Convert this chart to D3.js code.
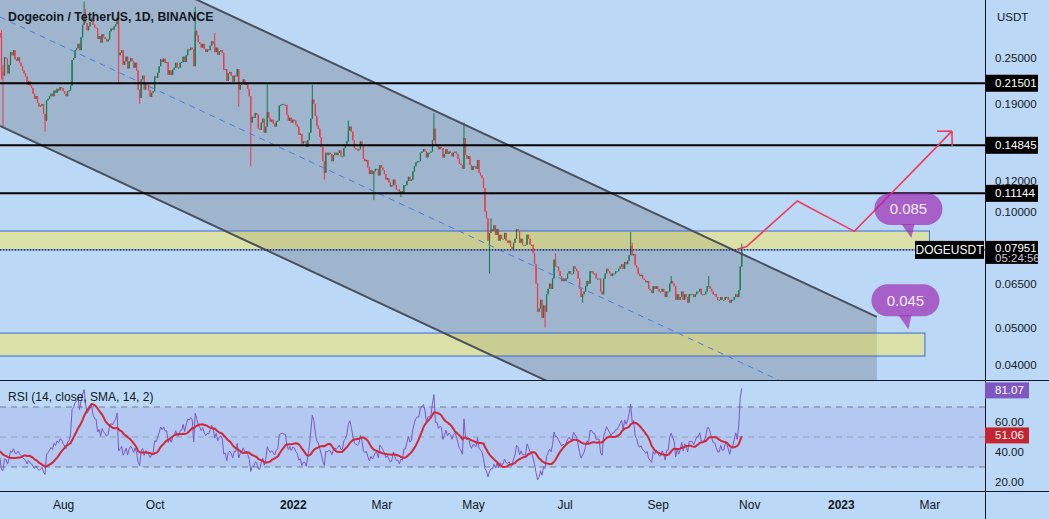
<!DOCTYPE html>
<html>
<head>
<meta charset="utf-8">
<script src="https://cdn.jsdelivr.net/npm/d3@7"></script>
<style>
  body { margin: 0; overflow: hidden; background: #bbd9f7; }
  svg { display: block; font-family: "Liberation Sans", Arial, sans-serif; }
</style>
</head>
<body>
<svg id="chart"></svg>
<script>
// ---- data (prices in units of 0.0001 USDT) ----
const unit = 1e-4;

// closes before the visible range, only used to warm up the RSI (2021-05-20 .. 2021-06-19)
const warmupCloses = [3950,3520,3380,3050,3700,3500,3530,3390,3060,2980,3180,3320,
  3740,4260,4080,3700,3500,3570,3380,3300,3420,3220,3150,3180,3280,3250,3190,3030,3060,2880,2900];

const closeMonths = ['2021-06-20','2021-07-01','2021-08-01','2021-09-01','2021-10-01','2021-11-01','2021-12-01',
  '2022-01-01','2022-02-01','2022-03-01','2022-04-01','2022-05-01','2022-06-01','2022-07-01','2022-08-01','2022-09-01','2022-10-01'];

const closeRows = [
  [2830,2290,2250,2510,2490,2280,2400,2590,2540,2620,2480],
  [2460,2510,2430,2380,2320,2280,2240,2130,2180,2120,2090,2020,1960,1990,1910,1870,1880,1900,1790,1720,1940,1960,1990,2020,1990,2060,2030,2080,2060,2100,2090],
  [2050,2020,1990,2050,2060,2120,2470,2500,2620,2650,2720,2620,2830,3050,3250,3080,2950,3020,3100,3180,3050,3000,2990,2800,2850,2740,2880,2830,2800,2760,2790],
  [2930,2980,2960,3020,3060,3180,2540,2580,2620,2400,2450,2520,2350,2450,2500,2450,2360,2430,2320,2070,1970,2200,2250,2070,2150,2130,2060,1980,2030,2050],
  [2240,2220,2290,2380,2480,2440,2490,2430,2440,2260,2320,2260,2330,2360,2430,2360,2360,2430,2440,2520,2440,2540,2630,2620,2660,2640,2380,2940,2860,2750,2720],
  [2660,2720,2640,2590,2630,2620,2690,2760,2720,2590,2660,2550,2600,2620,2580,2330,2340,2180,2280,2300,2250,2170,2250,2240,2340,2070,2130,2150,2200,2130],
  [2140,2080,1990,1700,1760,1750,1800,1780,1640,1630,1700,1740,1600,1660,1810,1750,1710,1730,1690,1660,1710,1720,1880,1890,1900,1890,1890,1780,1720,1750,1700],
  [1730,1720,1680,1660,1580,1590,1500,1520,1520,1470,1530,1600,1740,1950,1900,1770,1670,1640,1560,1470,1350,1260,1420,1400,1420,1410,1350,1400,1420,1400,1420],
  [1440,1390,1390,1460,1480,1520,1620,1660,1610,1530,1460,1450,1440,1450,1520,1480,1370,1350,1360,1300,1250,1280,1250,1270,1290,1290,1240,1320],
  [1300,1280,1250,1210,1220,1190,1160,1170,1210,1170,1140,1140,1110,1130,1120,1170,1170,1200,1230,1200,1210,1270,1310,1340,1350,1350,1420,1430,1450,1430,1380],
  [1420,1420,1430,1530,1640,1490,1490,1450,1470,1460,1380,1410,1450,1410,1430,1420,1390,1420,1430,1410,1370,1330,1320,1290,1550,1400,1370,1390,1320,1280],
  [1310,1310,1290,1360,1260,1240,1220,1150,1000,960,840,880,900,890,920,870,900,840,870,850,850,880,840,830,840,810,800,830,850,900,890],
  [830,850,820,820,820,870,850,820,820,780,730,650,550,560,590,530,570,550,610,630,650,630,670,750,720,720,700,680,660,670],
  [660,670,690,700,690,690,720,710,700,670,630,600,610,620,640,660,650,700,700,690,690,670,670,670,620,610,670,690,710,700,690],
  [680,690,690,700,700,710,720,730,710,740,730,745,770,815,770,775,725,715,690,680,685,670,665,655,660,630,625,615,640,630,640],
  [630,620,620,630,620,600,620,620,650,660,650,640,590,610,590,600,620,590,610,600,580,610,610,610,600,610,620,620,630,610],
  [610,610,620,640,640,630,620,610,610,600,590,590,600,590,590,600,600,590,580,590,590,600,610,600,625,720,795.1]
];

// notable wicks (0 = no wick on that side)
const wickDays = ['2021-06-21','2021-06-22','2021-07-20','2021-08-15','2021-08-16','2021-09-07','2021-09-21','2021-10-28',
  '2021-11-10','2021-11-26','2021-12-04','2021-12-15','2022-01-14','2022-01-22','2022-02-07','2022-02-24','2022-03-14',
  '2022-04-05','2022-04-25','2022-05-12','2022-05-13','2022-06-18','2022-06-25','2022-07-13','2022-08-14','2022-08-15',
  '2022-09-10','2022-10-05','2022-10-27'];
const wickHigh = [2950,2400,0,3500,3350,3320,0,3390,2900,0,0,2150,2130,0,1720,0,0,1800,1700,0,960,0,780,0,885,830,680,680,825];
const wickLow  = [2200,1660,1610,0,0,2160,1900,0,0,1870,1310,0,0,1210,0,1070,1090,0,0,690,0,500,0,580,0,0,0,0,0];

// drawings
const levels = [0.21501, 0.14845, 0.11144];
const lastPrice = 0.07951, lastPriceText = '0.07951', countdown = '05:24:56';
const zoneDays = [['2021-06-01','2023-03-01'], ['2021-06-01','2023-02-26']];
const zonePrices = [[0.0890, 0.07951], [0.0484, 0.0422]];
const channelDays = ['2021-06-20', '2023-01-25'];
const channelTop = [0.6122, 0.0533];
const channelWidth = 3.674;           // upper / lower price ratio
const arrowDays = ['2022-10-24','2022-10-30','2022-12-03','2023-01-10','2023-03-16'];
const arrowPrices = [0.0798, 0.0810, 0.1065, 0.0888, 0.1616];
const bubbleDays = ['2023-02-17', '2023-02-15'];
const bubblePrices = [0.0854, 0.0495];
const bubbleTexts = ['0.085', '0.045'];

// axes
const priceTicks = [0.25, 0.19, 0.12, 0.10, 0.065, 0.05, 0.04];
const rsiTicks = [60, 40, 20];
const rsiLevels = [70, 50, 30];
const rsiLast = 81.07, rsiMaLast = 51.06;
const timeTicks = ['2021-08-01','2021-10-01','2022-01-01','2022-03-01','2022-05-01','2022-07-01','2022-09-01','2022-11-01','2023-01-01','2023-03-01'];
const timeLabels = ['Aug','Oct','2022','Mar','May','Jul','Sep','Nov','2023','Mar'];

// ---- layout ----
const w = 1049, h = 519;
const plotW = 985, priceBottom = 380, rsiTop = 381, rsiBottom = 491;
const bg = '#bbd9f7', ink = '#131722';
const upCol = '#157a4c', downCol = '#f23645';

const parse = d3.utcParse('%Y-%m-%d');
const fmtDay = d3.utcFormat('%Y-%m-%d');

const x = d3.scaleUtc().domain([parse('2021-06-20'), parse('2023-04-07')]).range([0, plotW]);
const y = d3.scaleLog().domain([0.03657, 0.3534]).range([priceBottom, 0]);
const yR = d3.scaleLinear().domain([14, 87.33]).range([rsiBottom, rsiTop]);

// candles
const candles = [];
let prev = warmupCloses[warmupCloses.length - 1] * unit;
closeMonths.forEach((m, k) => {
  const start = parse(m);
  closeRows[k].forEach((c, i) => {
    const close = c * unit;
    candles.push({date: d3.utcDay.offset(start, i), open: prev, close: close});
    prev = close;
  });
});
const wickMap = new Map(wickDays.map((d, i) => [d, i]));
candles.forEach(c => {
  c.high = Math.max(c.open, c.close);
  c.low = Math.min(c.open, c.close);
  const j = wickMap.get(fmtDay(c.date));
  if (j !== undefined) {
    if (wickHigh[j]) c.high = Math.max(c.high, wickHigh[j] * unit);
    if (wickLow[j]) c.low = Math.min(c.low, wickLow[j] * unit);
  }
});

// RSI(14) with SMA(14)
const allCloses = warmupCloses.map(v => v * unit).concat(candles.map(c => c.close));
const rsiLen = 14;
const rsi = new Array(allCloses.length).fill(null);
let up = 0, dn = 0;
for (let i = 1; i < allCloses.length; i++) {
  const ch = allCloses[i] - allCloses[i - 1];
  const u = Math.max(ch, 0), d = Math.max(-ch, 0);
  if (i <= rsiLen) {
    up += u / rsiLen; dn += d / rsiLen;
    if (i < rsiLen) continue;
  } else {
    up = (up * (rsiLen - 1) + u) / rsiLen;
    dn = (dn * (rsiLen - 1) + d) / rsiLen;
  }
  rsi[i] = dn === 0 ? 100 : 100 - 100 / (1 + up / dn);
}
const rsiMa = rsi.map((v, i) => {
  if (i < rsiLen - 1) return null;
  const win = rsi.slice(i - rsiLen + 1, i + 1);
  return win.some(q => q === null) ? null : d3.mean(win);
});
const off = warmupCloses.length;
candles.forEach((c, i) => { c.rsi = rsi[i + off]; c.rsiMa = rsiMa[i + off]; });

// ---- drawing ----
const svg = d3.select('#chart').attr('width', w).attr('height', h);
svg.append('rect').attr('width', w).attr('height', h).attr('fill', bg);

const defs = svg.append('defs');
defs.append('clipPath').attr('id', 'price-clip').append('rect')
    .attr('x', 0).attr('y', 0).attr('width', plotW).attr('height', priceBottom);
defs.append('clipPath').attr('id', 'rsi-clip').append('rect')
    .attr('x', 0).attr('y', rsiTop).attr('width', plotW).attr('height', rsiBottom - rsiTop);

const pane = svg.append('g').attr('clip-path', 'url(#price-clip)');

// channel
const c0 = parse(channelDays[0]), c1 = parse(channelDays[1]);
const topPts = [[x(c0), y(channelTop[0])], [x(c1), y(channelTop[1])]];
const lowPts = [[x(c0), y(channelTop[0] / channelWidth)], [x(c1), y(channelTop[1] / channelWidth)]];
const midPts = [[x(c0), y(channelTop[0] / Math.sqrt(channelWidth))], [x(c1), y(channelTop[1] / Math.sqrt(channelWidth))]];
pane.append('path')
    .attr('d', d3.line()([topPts[0], topPts[1], lowPts[1], lowPts[0]]) + 'Z')
    .attr('fill', 'rgba(100,106,122,0.32)');

// yellow zones
zoneDays.forEach((zd, i) => {
  const x0 = x(parse(zd[0])), x1 = x(parse(zd[1]));
  pane.append('rect')
      .attr('x', x0).attr('y', y(zonePrices[i][0]))
      .attr('width', x1 - x0).attr('height', y(zonePrices[i][1]) - y(zonePrices[i][0]))
      .attr('fill', 'rgba(255,236,70,0.45)')
      .attr('stroke', '#3d68d8').attr('stroke-width', 1);
});

// candles
const cg = pane.append('g');
cg.selectAll('line.wick').data(candles).enter().append('line')
  .attr('x1', d => x(d.date)).attr('x2', d => x(d.date))
  .attr('y1', d => y(d.high)).attr('y2', d => y(d.low))
  .attr('stroke', d => d.close >= d.open ? upCol : downCol).attr('stroke-width', 1);
cg.selectAll('rect.body').data(candles).enter().append('rect')
  .attr('x', d => x(d.date) - 0.6).attr('width', 1.2)
  .attr('y', d => y(Math.max(d.open, d.close)))
  .attr('height', d => Math.max(1, y(Math.min(d.open, d.close)) - y(Math.max(d.open, d.close))))
  .attr('fill', d => d.close >= d.open ? upCol : downCol);

// channel lines
pane.append('path').attr('d', d3.line()(midPts)).attr('fill', 'none')
    .attr('stroke', '#4a7de0').attr('stroke-width', 1).attr('stroke-dasharray', '6,5');
[topPts, lowPts].forEach(pts => {
  pane.append('path').attr('d', d3.line()(pts)).attr('fill', 'none')
      .attr('stroke', '#4b505c').attr('stroke-width', 2);
});

// horizontal levels
levels.forEach(l => {
  pane.append('line').attr('x1', 0).attr('x2', plotW).attr('y1', y(l)).attr('y2', y(l))
      .attr('stroke', '#000').attr('stroke-width', 2);
});
pane.append('line').attr('x1', 0).attr('x2', plotW).attr('y1', y(lastPrice)).attr('y2', y(lastPrice))
    .attr('stroke', '#000').attr('stroke-width', 1).attr('stroke-dasharray', '1,2');

// red projection arrow
const aPts = arrowDays.map((d, i) => [x(parse(d)), y(arrowPrices[i])]);
pane.append('path').attr('d', d3.line().curve(d3.curveLinear)(aPts)).attr('fill', 'none')
    .attr('stroke', '#f2385c').attr('stroke-width', 1.6);
const tip = aPts[aPts.length - 1], from = aPts[aPts.length - 2];
const ang = Math.atan2(from[1] - tip[1], from[0] - tip[0]);
[-Math.PI / 4, Math.PI / 4].forEach(da => {
  pane.append('line').attr('x1', tip[0]).attr('y1', tip[1])
      .attr('x2', tip[0] + 15 * Math.cos(ang + da)).attr('y2', tip[1] + 15 * Math.sin(ang + da))
      .attr('stroke', '#f2385c').attr('stroke-width', 1.6);
});

// callout bubbles
bubbleDays.forEach((d, i) => {
  const tx = x(parse(d)), ty = y(bubblePrices[i]);
  const g = pane.append('g');
  g.append('path')
    .attr('d', `M${tx - 10},${ty - 14} L${tx},${ty} L${tx + 3},${ty - 14} Z`)
    .attr('fill', 'rgba(156,39,176,0.68)');
  g.append('rect').attr('x', tx - 37).attr('y', ty - 45).attr('width', 68).attr('height', 32)
    .attr('rx', 16).attr('fill', 'rgba(156,39,176,0.68)');
  g.append('text').attr('x', tx - 3).attr('y', ty - 29).attr('dy', '0.35em')
    .attr('text-anchor', 'middle').attr('fill', '#f4eaff').attr('font-size', 15).text(bubbleTexts[i]);
});

// symbol label at last price
svg.append('rect').attr('x', 915).attr('y', y(lastPrice) - 9).attr('width', 69).attr('height', 18).attr('fill', '#000');
svg.append('text').attr('x', 949.5).attr('y', y(lastPrice)).attr('dy', '0.35em').attr('text-anchor', 'middle')
   .attr('fill', '#fff').attr('font-size', 12).text('DOGEUSDT');

// ---- RSI pane ----
const rp = svg.append('g').attr('clip-path', 'url(#rsi-clip)');
rp.append('rect').attr('x', 0).attr('width', plotW)
  .attr('y', yR(rsiLevels[0])).attr('height', yR(rsiLevels[2]) - yR(rsiLevels[0]))
  .attr('fill', 'rgba(126,87,194,0.12)');
rsiLevels.forEach((l, i) => {
  rp.append('line').attr('x1', 0).attr('x2', plotW).attr('y1', yR(l)).attr('y2', yR(l))
    .attr('stroke', '#787b86').attr('stroke-width', 1).attr('stroke-dasharray', '6,5')
    .attr('opacity', i === 1 ? 0.55 : 1);
});
const rsiPts = candles.filter(c => c.rsi !== null);
rp.append('path').datum(rsiPts)
  .attr('d', d3.line().x(d => x(d.date)).y(d => yR(d.rsi)))
  .attr('fill', 'none').attr('stroke', '#7e57c2').attr('stroke-width', 1);
rp.append('path').datum(candles.filter(c => c.rsiMa !== null))
  .attr('d', d3.line().x(d => x(d.date)).y(d => yR(d.rsiMa)))
  .attr('fill', 'none').attr('stroke', '#d0293a').attr('stroke-width', 2);

// ---- separators ----
svg.append('line').attr('x1', 0).attr('x2', w).attr('y1', priceBottom + 0.5).attr('y2', priceBottom + 0.5).attr('stroke', '#131722');
svg.append('line').attr('x1', 0).attr('x2', w).attr('y1', rsiBottom + 0.5).attr('y2', rsiBottom + 0.5).attr('stroke', '#131722');
svg.append('line').attr('x1', plotW + 0.5).attr('x2', plotW + 0.5).attr('y1', 0).attr('y2', h).attr('stroke', '#131722');

// ---- axes ----
const priceAxis = d3.axisRight(y).tickValues(priceTicks).tickFormat(d => d.toFixed(5)).tickSize(0).tickPadding(10);
svg.append('g').attr('transform', `translate(${plotW},0)`).call(priceAxis)
   .call(g => g.select('.domain').remove())
   .selectAll('text').attr('font-size', 11.5).attr('font-family', null).attr('fill', ink);

const rsiAxis = d3.axisRight(yR).tickValues(rsiTicks).tickFormat(d => d.toFixed(2)).tickSize(0).tickPadding(10);
svg.append('g').attr('transform', `translate(${plotW},0)`).call(rsiAxis)
   .call(g => g.select('.domain').remove())
   .selectAll('text').attr('font-size', 11.5).attr('font-family', null).attr('fill', ink);

const timeAxis = d3.axisBottom(x).tickValues(timeTicks.map(parse)).tickFormat((d, i) => timeLabels[i]).tickSize(0).tickPadding(9);
svg.append('g').attr('transform', `translate(0,${rsiBottom})`).call(timeAxis)
   .call(g => g.select('.domain').remove())
   .selectAll('text').attr('font-size', 12).attr('font-family', null).attr('fill', ink)
   .attr('font-weight', (d, i) => /^\d{4}$/.test(timeLabels[i]) ? 'bold' : null);

svg.append('text').attr('x', 997).attr('y', 17).attr('dy', '0.35em').attr('font-size', 11.5).attr('fill', ink).text('USDT');

// price boxes on the axis
levels.forEach(l => {
  svg.append('rect').attr('x', plotW + 1).attr('y', y(l) - 8.5).attr('width', 52).attr('height', 17).attr('fill', '#000');
  svg.append('text').attr('x', 995).attr('y', y(l)).attr('dy', '0.35em').attr('font-size', 11.5).attr('fill', '#fff').text(l.toFixed(5));
});
svg.append('rect').attr('x', plotW + 1).attr('y', y(lastPrice) - 9).attr('width', 52).attr('height', 23).attr('fill', '#000');
svg.append('text').attr('x', 995).attr('y', y(lastPrice) - 2).attr('dy', '0.35em').attr('font-size', 11.5).attr('fill', '#fff').text(lastPriceText);
svg.append('text').attr('x', 995).attr('y', y(lastPrice) + 8.5).attr('dy', '0.35em').attr('font-size', 11.5).attr('fill', '#c8cbd3').text(countdown);

// RSI value boxes
[[rsiLast, '#7e57c2'], [rsiMaLast, '#c4242f']].forEach(([v, col]) => {
  svg.append('rect').attr('x', plotW).attr('y', yR(v) - 8).attr('width', 44).attr('height', 16).attr('fill', col);
  svg.append('text').attr('x', 995).attr('y', yR(v)).attr('dy', '0.35em').attr('font-size', 11.5).attr('fill', '#fff').text(v.toFixed(2));
});

// titles
svg.append('text').attr('x', 8).attr('y', 17).attr('dy', '0.35em').attr('font-size', 12.3).attr('font-weight', 'bold')
   .attr('fill', ink).text('Dogecoin / TetherUS, 1D, BINANCE');
svg.append('text').attr('x', 8).attr('y', 397).attr('dy', '0.35em').attr('font-size', 12).attr('fill', ink)
   .text('RSI (14, close, SMA, 14, 2)');
</script>
</body>
</html>
